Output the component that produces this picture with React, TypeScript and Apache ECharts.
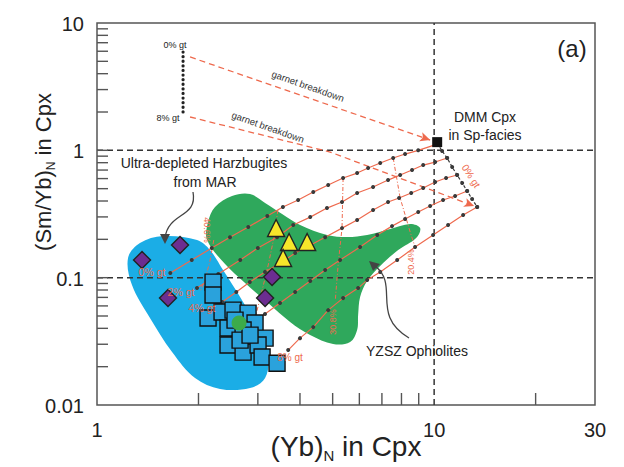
import React, { useEffect, useRef } from "react";
import * as echarts from "echarts";

// ---------------- data ----------------
const xTickMarks = [2, 3, 4, 5, 6, 7, 8, 9, 20];
const yTickMarks = [0.02, 0.03, 0.04, 0.05, 0.06, 0.07, 0.08, 0.09, 0.1, 0.2, 0.3, 0.4, 0.5, 0.6, 0.7, 0.8, 0.9, 1, 2, 3, 4, 5, 6, 7, 8, 9];
const xTickLabels = [1, 10, 30];
const yTickLabels = [0.01, 0.1, 1, 10];

const marRegion = [
  [1.236, 0.1426], [1.341, 0.187], [1.57, 0.2122], [1.98, 0.1974], [2.164, 0.1647], [2.365, 0.1147],
  [2.657, 0.0704], [2.984, 0.0409], [3.217, 0.02466], [3.152, 0.01627], [2.844, 0.01358], [2.317, 0.01337],
  [1.953, 0.01627], [1.67, 0.02603], [1.436, 0.04815], [1.27, 0.0874],
];
const yzszRegion = [
  [2.121, 0.1974], [2.135, 0.2734], [2.239, 0.3585], [2.515, 0.4375], [2.844, 0.4536], [3.152, 0.3855],
  [3.54, 0.316], [4.003, 0.2589], [4.814, 0.2162], [5.518, 0.2084], [6.327, 0.2162], [7.403, 0.2409],
  [8.487, 0.2637], [9.088, 0.2453], [8.843, 0.2047], [7.822, 0.1647], [6.916, 0.1234], [6.327, 0.094],
  [6.031, 0.0704], [5.95, 0.0508], [5.909, 0.0388], [5.632, 0.0312], [5.015, 0.0301], [4.286, 0.0354],
  [3.739, 0.0448], [3.195, 0.0643], [2.749, 0.0907], [2.398, 0.1279],
];

const marHarzburgites = [[1.36, 0.1375], [1.763, 0.1804], [1.624, 0.0691], [3.306, 0.1011], [3.152, 0.0691]];
const yzszTriangles = [[3.398, 0.2453], [3.713, 0.1904], [4.2, 0.1904], [3.564, 0.1426]];
const yzszSquares = [
  [2.209, 0.0923], [2.209, 0.073], [2.135, 0.0482], [2.349, 0.0537], [2.532, 0.0556], [2.806, 0.0527],
  [2.943, 0.044], [2.447, 0.0402], [2.712, 0.0388], [3.152, 0.0335], [2.447, 0.0296], [2.712, 0.026],
  [3.004, 0.0296], [3.088, 0.0238], [3.42, 0.0213], [2.657, 0.0323], [2.844, 0.0354], [2.567, 0.0464],
];
const yzszMean = [[2.639, 0.044]];
const dmmCpx = [[10.21, 1.16]];

const curve0 = [
  [10.21, 1.12], [8.97, 1.0], [8.2, 0.935], [7.56, 0.87], [6.92, 0.795], [6.37, 0.726], [5.91, 0.663],
  [5.37, 0.606], [4.85, 0.534], [4.38, 0.47], [3.95, 0.407], [3.56, 0.359], [3.2, 0.305], [2.81, 0.25],
  [2.48, 0.208], [2.19, 0.171], [1.91, 0.1375], [1.65, 0.109],
];
const curve2 = [
  [10.93, 0.87], [10.07, 0.809], [9.28, 0.766], [8.6, 0.7], [7.93, 0.64], [7.3, 0.584], [6.59, 0.515],
  [5.91, 0.462], [5.33, 0.393], [4.81, 0.352], [4.29, 0.299], [3.82, 0.259], [3.42, 0.208], [3.0, 0.171],
  [2.66, 0.1375], [2.29, 0.1067], [1.98, 0.0828],
];
const curve4 = [
  [11.7, 0.64], [10.85, 0.606], [10.07, 0.564], [9.28, 0.506], [8.55, 0.462], [7.87, 0.422], [7.3, 0.393],
  [6.59, 0.34], [5.91, 0.284], [5.33, 0.245], [4.75, 0.208], [4.29, 0.18], [3.87, 0.156], [3.49, 0.13],
  [3.15, 0.111], [2.84, 0.0923], [2.59, 0.0771], [2.35, 0.0643],
];
const curve6 = [
  [12.53, 0.479], [11.54, 0.438], [10.63, 0.407], [9.73, 0.365], [8.97, 0.328], [8.2, 0.289], [7.5, 0.254],
  [6.78, 0.216], [6.03, 0.174], [5.26, 0.1375], [4.75, 0.1147], [4.29, 0.094], [3.87, 0.0771], [3.49, 0.0632],
  [3.15, 0.0518], [2.94, 0.0448],
];
const curve8 = [
  [13.42, 0.3585], [12.19, 0.31], [11.0, 0.259], [9.93, 0.216], [8.78, 0.174], [7.77, 0.1375], [6.92, 0.111],
  [6.33, 0.0957], [5.95, 0.0828], [5.37, 0.0691], [4.85, 0.0556], [4.38, 0.0409], [4.0, 0.0335], [3.69, 0.027],
];
const sourceLine = [
  [10.21, 1.141], [10.56, 0.987], [10.93, 0.87], [11.31, 0.739], [11.7, 0.64], [12.11, 0.554], [12.53, 0.479],
  [12.96, 0.414], [13.42, 0.3585],
];
const garnetColumn = [[1.8, 5.92], [1.8, 2.0]];
const breakdown0 = [[1.888, 5.41], [9.73, 1.205]];
const breakdown8 = [[1.888, 1.827], [4.914, 0.97], [13.14, 0.365]];
const meltIso1 = [[7.56, 0.87], [7.93, 0.422], [8.49, 0.228], [8.78, 0.174]];
const meltIso2 = [[5.37, 0.606], [5.33, 0.245], [5.19, 0.1256], [5.09, 0.0659]];
const meltIso3 = [[3.44, 0.34], [3.35, 0.208], [3.22, 0.1256], [3.09, 0.08], [2.96, 0.0508]];
const meltIso4 = [[2.22, 0.1974], [2.16, 0.1326], [2.08, 0.0923], [2.02, 0.0771]];
const refH1 = [[1, 1], [30, 1]];
const refH2 = [[1, 0.1], [30, 0.1]];
const refV = [[10, 0.01], [10, 10]];

// ---------------- styles ----------------
const FONT = "'Liberation Sans', Arial, Helvetica, sans-serif";
const RED = "#ee6a4e";
const DOT = "#3a3a3a";

function region(points: number[][], color: string) {
  return {
    type: "custom",
    coordinateSystem: "cartesian2d",
    z: 1,
    silent: true,
    clip: false,
    data: points,
    renderItem: (params: any, api: any) => {
      if (params.dataIndex !== 0) return null;
      const pts = points.map((p) => api.coord(p));
      return { type: "polygon", shape: { points: pts, smooth: 0.35 }, style: { fill: color } };
    },
  };
}

function curve(data: number[][]) {
  return {
    type: "line",
    data,
    z: 3,
    silent: true,
    symbol: "circle",
    symbolSize: 4,
    showSymbol: true,
    itemStyle: { color: DOT },
    lineStyle: { color: RED, width: 1.2 },
  };
}

function iso(data: number[][]) {
  return {
    type: "line",
    data,
    z: 3,
    silent: true,
    symbol: "none",
    lineStyle: { color: RED, width: 1, type: [4, 2, 1, 2] },
  };
}

function ref(data: number[][]) {
  return {
    type: "line",
    data,
    z: 2,
    silent: true,
    symbol: "none",
    lineStyle: { color: "#333", width: 1.5, type: [6, 4] },
  };
}

function arrowLine(data: number[][], rot: number) {
  return {
    type: "line",
    z: 3,
    silent: true,
    symbol: "none",
    showSymbol: true,
    lineStyle: { color: RED, width: 1.3, type: [6, 4] },
    data: data.map((p, i) =>
      i === data.length - 1
        ? { value: p, symbol: "arrow", symbolSize: [7, 10], symbolRotate: rot, itemStyle: { color: RED } }
        : { value: p }
    ),
  };
}

function scatter(data: number[][], symbol: string, size: any, color: string, border: string, z: number) {
  return {
    type: "scatter",
    data,
    z,
    silent: true,
    symbol,
    symbolSize: size,
    itemStyle: { color, borderColor: border, borderWidth: border === "none" ? 0 : 1.4, opacity: 1 },
  };
}

function txt(x: number, y: number, text: string, size: number, color = "#222", align = "center", rotation = 0) {
  return {
    type: "text",
    x,
    y,
    rotation,
    z: 50,
    style: {
      text,
      fill: color,
      font: `${size}px ${FONT}`,
      align,
      textAlign: align,
      verticalAlign: "middle",
      textVerticalAlign: "middle",
    },
  };
}

export default function App() {
  const ref0 = useRef<HTMLDivElement>(null);
  useEffect(() => {
    if (!ref0.current) return;
    const chart = echarts.init(ref0.current, undefined, { renderer: "svg" });
    const option: any = {
      animation: false,
      backgroundColor: "#ffffff",
      grid: { left: 97, right: 29, top: 23, bottom: 62, show: true, borderColor: "#555", borderWidth: 1.5, backgroundColor: "transparent" },
      xAxis: {
        type: "log", logBase: 10, min: 1, max: 30,
        axisLine: { show: false }, axisTick: { show: false }, axisLabel: { show: false }, splitLine: { show: false },
      },
      yAxis: {
        type: "log", logBase: 10, min: 0.01, max: 10,
        axisLine: { show: false }, axisTick: { show: false }, axisLabel: { show: false }, splitLine: { show: false },
      },
      series: [
        region(marRegion, "#1badE6"),
        region(yzszRegion, "#2fa85c"),
        ref(refH1), ref(refH2), ref(refV),
        {
          type: "line", data: garnetColumn, z: 3, silent: true, symbol: "none",
          lineStyle: { color: "#222", width: 3.2, type: [0.1, 4.5], cap: "round" },
        },
        arrowLine(breakdown0, -109),
        arrowLine(breakdown8, -111),
        iso(meltIso1), iso(meltIso2), iso(meltIso3), iso(meltIso4),
        curve(curve0), curve(curve2), curve(curve4), curve(curve6), curve(curve8),
        {
          ...curve(sourceLine),
          lineStyle: { color: DOT, width: 1.2, type: [3, 2] },
        },
        scatter(dmmCpx, "rect", 10, "#111", "none", 6),
        scatter(marHarzburgites, "diamond", 17, "#6c2d91", "#222", 5),
        scatter(yzszTriangles, "triangle", 17, "#f7e62a", "#222", 5),
        scatter(yzszSquares, "rect", 16, "#2aa2dc", "#111", 5),
        scatter(yzszMean, "circle", 15, "#3cab4a", "none", 6),
        {
          type: "custom", coordinateSystem: "cartesian2d", z: 10, silent: true, clip: false,
          data: xTickMarks.map((v) => [v, 0.01]),
          renderItem: (_p: any, api: any) => {
            const p = api.coord([api.value(0), api.value(1)]);
            return { type: "line", shape: { x1: p[0], y1: p[1], x2: p[0], y2: p[1] - 12 }, style: { stroke: "#555", lineWidth: 1.4 } };
          },
        },
        {
          type: "custom", coordinateSystem: "cartesian2d", z: 10, silent: true, clip: false,
          data: yTickMarks.map((v) => [1, v]),
          renderItem: (_p: any, api: any) => {
            const p = api.coord([api.value(0), api.value(1)]);
            return { type: "line", shape: { x1: p[0], y1: p[1], x2: p[0] + 11, y2: p[1] }, style: { stroke: "#555", lineWidth: 1.4 } };
          },
        },
        {
          type: "custom", coordinateSystem: "cartesian2d", z: 10, silent: true, clip: false,
          data: xTickLabels.map((v) => [v, 0.01]),
          renderItem: (params: any, api: any) => {
            const p = api.coord([api.value(0), api.value(1)]);
            return {
              type: "text", x: p[0], y: p[1] + 25,
              style: { text: String(xTickLabels[params.dataIndex]), fill: "#222", font: `20px ${FONT}`, align: "center", verticalAlign: "middle" },
            };
          },
        },
        {
          type: "custom", coordinateSystem: "cartesian2d", z: 10, silent: true, clip: false,
          data: yTickLabels.map((v) => [1, v]),
          renderItem: (params: any, api: any) => {
            const p = api.coord([api.value(0), api.value(1)]);
            return {
              type: "text", x: p[0] - 13, y: p[1] + 1,
              style: { text: String(yTickLabels[params.dataIndex]), fill: "#222", font: `20px ${FONT}`, align: "right", verticalAlign: "middle" },
            };
          },
        },
      ],
      graphic: [
        // axis titles
        {
          type: "text", x: 43, y: 172, rotation: Math.PI / 2, z: 50,
          style: {
            text: "{a|(Sm/Yb)}{s|N}{a| in Cpx}",
            align: "center", verticalAlign: "middle",
            rich: {
              a: { fontSize: 22, fontFamily: FONT, fill: "#222", lineHeight: 28 },
              s: { fontSize: 12, fontFamily: FONT, fill: "#222", lineHeight: 12, verticalAlign: "bottom" },
            },
          },
        },
        {
          type: "text", x: 346, y: 446, z: 50,
          style: {
            text: "{a|(Yb)}{s|N}{a| in Cpx}",
            align: "center", verticalAlign: "middle",
            rich: {
              a: { fontSize: 28, fontFamily: FONT, fill: "#222", lineHeight: 34 },
              s: { fontSize: 15, fontFamily: FONT, fill: "#222", lineHeight: 15, verticalAlign: "bottom" },
            },
          },
        },
        txt(572, 48, "(a)", 24),
        txt(485, 117, "DMM Cpx", 14),
        txt(485, 135, "in Sp-facies", 14),
        txt(204, 163, "Ultra-depleted Harzbugites", 14),
        txt(205, 182, "from MAR", 14),
        txt(366, 351, "YZSZ Ophiolites", 14, "#222", "left"),
        txt(175, 45, "0% gt", 9),
        txt(168, 118, "8% gt", 9),
        txt(308, 86, "garnet breakdown", 9.5, "#333", "center", -0.34),
        txt(268, 127, "garnet breakdown", 9.5, "#333", "center", -0.34),
        txt(152, 272, "0% gt", 10.5, RED),
        txt(181, 292, "2% gt", 10.5, RED),
        txt(202, 308, "4% gt", 10.5, RED),
        txt(290, 357, "8% gt", 10, RED),
        txt(471, 176, "0% gt", 10, RED, "center", -1.0),
        txt(207, 230, "40.6%", 9, RED, "center", -Math.PI / 2),
        txt(333, 322, "30.8%", 9, RED, "center", Math.PI / 2),
        txt(411, 262, "20.4%", 9, RED, "center", Math.PI / 2),
        // curved pointers
        {
          type: "bezierCurve", z: 40,
          shape: { x1: 193, y1: 192, cpx1: 198, cpy1: 218, cpx2: 168, cpy2: 212, x2: 165, y2: 238 },
          style: { stroke: "#444", lineWidth: 1.3, fill: "none" },
        },
        { type: "polygon", z: 40, shape: { points: [[160, 234], [170, 234], [165, 244]] }, style: { fill: "#444" } },
        {
          type: "bezierCurve", z: 40,
          shape: { x1: 409, y1: 338, cpx1: 370, cpy1: 315, cpx2: 400, cpy2: 285, x2: 375, y2: 266 },
          style: { stroke: "#444", lineWidth: 1.3, fill: "none" },
        },
        { type: "polygon", z: 40, shape: { points: [[369, 261], [380, 264], [373, 271]] }, style: { fill: "#444" } },
      ],
    };
    chart.setOption(option);
    return () => chart.dispose();
  }, []);
  return <div ref={ref0} style={{ position: "fixed", left: 0, top: 0, width: 624, height: 467, background: "#fff" }} />;
}
